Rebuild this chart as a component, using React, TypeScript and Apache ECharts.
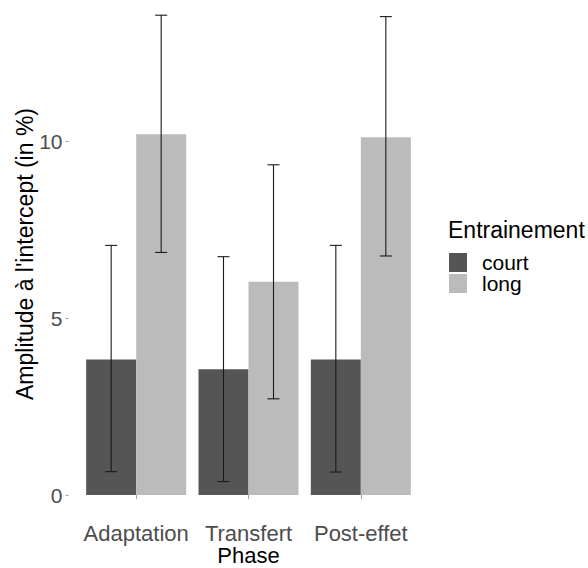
import React, { useEffect, useRef } from "react";
import * as echarts from "echarts";

const phases = ["Adaptation", "Transfert", "Post-effet"];
const groups = ["court", "long"];
const courtMean = [3.83, 3.56, 3.83];
const longMean = [10.2, 6.03, 10.12];
const courtLow = [0.66, 0.38, 0.65];
const courtHigh = [7.06, 6.74, 7.06];
const longLow = [6.86, 2.72, 6.76];
const longHigh = [13.57, 9.34, 13.53];
const yTicks = [0, 5, 10];

const FONT = "'Liberation Sans', Arial, sans-serif";
const BAR_W = 50;
const COLORS = ["#555555", "#BBBBBB"];

function errSeries(name: string, low: number[], high: number[], off: number) {
  return {
    type: "custom",
    name,
    z: 10,
    data: phases.map((_, i) => [i, low[i], high[i]]),
    renderItem: (params: any, api: any) => {
      const x = api.value(0);
      const pLo = api.coord([x, api.value(1)]);
      const pHi = api.coord([x, api.value(2)]);
      const cx = pLo[0] + off;
      const half = 6;
      const style = { stroke: "#1a1a1a", lineWidth: 1.1 };
      return {
        type: "group",
        children: [
          { type: "line", shape: { x1: cx, y1: pLo[1], x2: cx, y2: pHi[1] }, style },
          { type: "line", shape: { x1: cx - half, y1: pHi[1], x2: cx + half, y2: pHi[1] }, style },
          { type: "line", shape: { x1: cx - half, y1: pLo[1], x2: cx + half, y2: pLo[1] }, style },
        ],
      };
    },
  };
}

export default function App() {
  const ref = useRef<HTMLDivElement>(null);
  useEffect(() => {
    if (!ref.current) return;
    const chart = echarts.init(ref.current, null, { renderer: "svg" });
    chart.setOption({
      animation: false,
      backgroundColor: "#ffffff",
      textStyle: { fontFamily: FONT },
      grid: { left: 80, right: 171, top: 0, bottom: 73, containLabel: false },
      legend: {
        data: groups,
        orient: "vertical",
        left: 449,
        top: 252,
        padding: 0,
        icon: "rect",
        itemWidth: 18,
        itemHeight: 19,
        itemGap: 0,
        selectedMode: false,
        textStyle: { fontSize: 21, color: "#000", lineHeight: 19, padding: [0, 0, 0, 10], fontFamily: FONT },
      },
      xAxis: {
        type: "category",
        data: phases,
        offset: 23,
        axisLine: { show: false },
        axisTick: { show: true, length: 4, alignWithLabel: true, lineStyle: { color: "#888", width: 0.8 } },
        axisLabel: { fontSize: 22, color: "#4D4D4D", margin: 5, lineHeight: 20, interval: 0, fontFamily: FONT },
        splitLine: { show: false },
      },
      yAxis: {
        type: "value",
        min: 0,
        max: 14,
        offset: 11.5,
        axisLine: { show: false },
        splitLine: { show: false },
        axisTick: { show: true, length: 3, customValues: yTicks, lineStyle: { color: "#888", width: 0.8 } },
        axisLabel: {
          fontSize: 21,
          color: "#4D4D4D",
          margin: 6,
          customValues: yTicks,
          fontFamily: FONT,
        },
      },
      graphic: [
        {
          type: "text",
          x: 248.5,
          y: 555.5,
          style: {
            text: "Phase",
            fontSize: 22,
            lineHeight: 20,
            fill: "#000",
            align: "center",
            verticalAlign: "middle",
            fontFamily: FONT,
          },
        },
        {
          type: "text",
          x: 25,
          y: 254,
          rotation: Math.PI / 2,
          style: {
            text: "Amplitude à l'intercept (in %)",
            fontSize: 23,
            fill: "#000",
            align: "center",
            verticalAlign: "middle",
            fontFamily: FONT,
          },
        },
        {
          type: "text",
          x: 448,
          y: 230,
          style: { text: "Entrainement", fontSize: 23, fill: "#000", align: "left", verticalAlign: "middle", fontFamily: FONT },
        },
      ],
      series: [
        {
          type: "bar",
          name: "court",
          data: courtMean,
          barWidth: BAR_W,
          barGap: "0%",
          itemStyle: { color: COLORS[0] },
        },
        {
          type: "bar",
          name: "long",
          data: longMean,
          barWidth: BAR_W,
          barGap: "0%",
          itemStyle: { color: COLORS[1] },
        },
        errSeries("court-err", courtLow, courtHigh, -BAR_W / 2),
        errSeries("long-err", longLow, longHigh, BAR_W / 2),
      ],
    });
    return () => chart.dispose();
  }, []);
  return <div ref={ref} style={{ width: 588, height: 568, position: "absolute", left: 0, top: 0 }} />;
}
